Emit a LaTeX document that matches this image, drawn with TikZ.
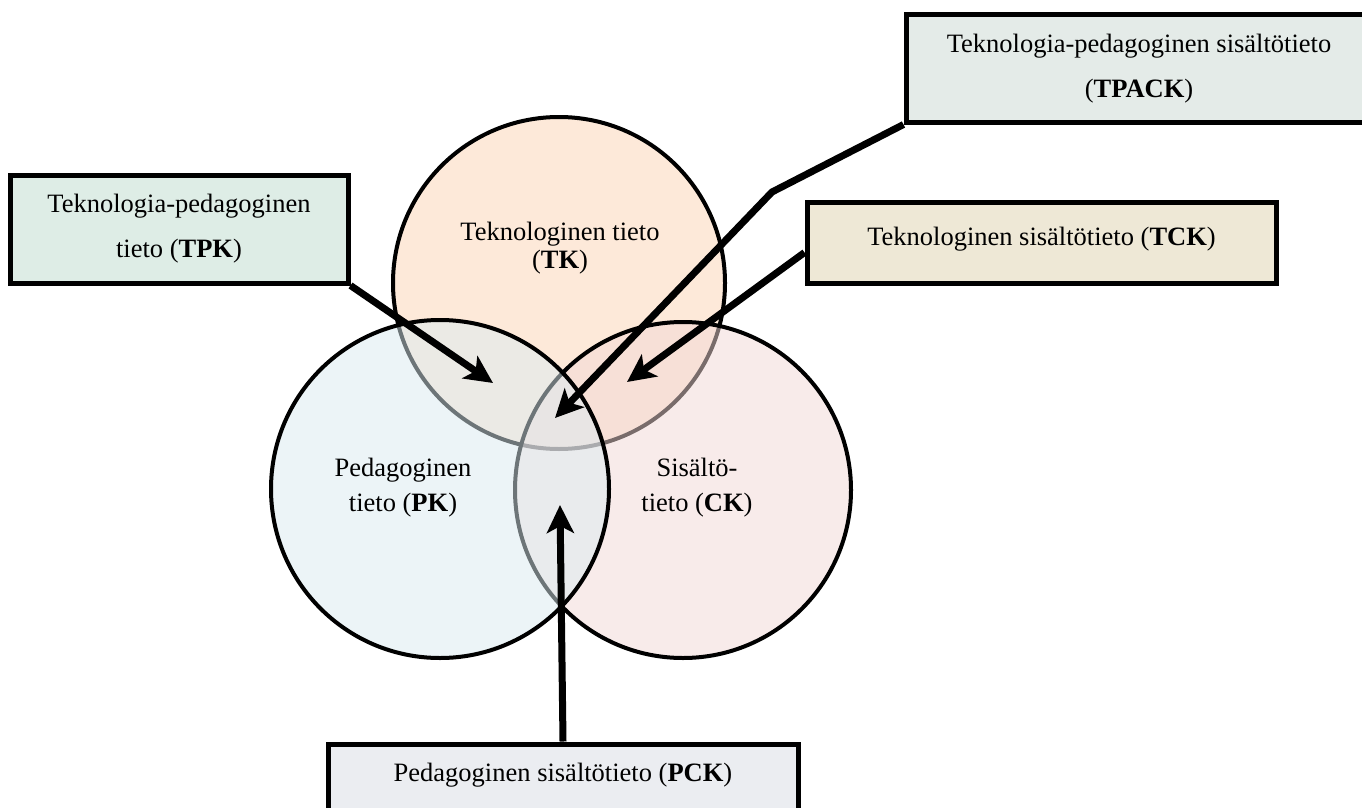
\documentclass[tikz,border=0pt]{standalone}
\usepackage{fontspec}
\setmainfont{Liberation Serif}
\usetikzlibrary{arrows.meta,shadows}

\definecolor{tkc}{RGB}{253,233,217}
\definecolor{pkc}{RGB}{219,235,241}
\definecolor{ckc}{RGB}{243,217,215}
\definecolor{tpkc}{RGB}{222,237,230}
\definecolor{tpackc}{RGB}{228,235,232}
\definecolor{tckc}{RGB}{238,232,214}
\definecolor{pckc}{RGB}{235,237,241}

\begin{document}
\begin{tikzpicture}[x=1pt,y=-1pt,
  lbl/.style={font=\fontsize{26.5pt}{45pt}\selectfont, align=center},
  cirlbl/.style={font=\fontsize{26.5pt}{28pt}\selectfont, align=center, inner sep=0pt},
  box/.style={draw=black, line width=5pt, inner sep=0pt, lbl,
    drop shadow={shadow xshift=2pt, shadow yshift=-2pt, opacity=0.3}},
  ring/.style={line width=4pt},
  arr/.style={line width=7pt, line join=miter, -{Stealth[length=28pt,width=27pt,inset=7pt]}},
]
\useasboundingbox (0,0) rectangle (1362,808);
\begin{scope}
\clip (0,0) rectangle (1362,808);
\fill[white] (0,0) rectangle (1362,808);

% circles
\draw[ring, fill=tkc] (559,283) circle[radius=166pt];
\draw[ring, fill=ckc, fill opacity=0.5] (683,490) circle[radius=168pt];
\draw[ring, fill=pkc, fill opacity=0.5] (440,489) circle[radius=169pt];

% circle labels
\node[cirlbl] (tk) at (560,248) {Teknologinen tieto\\(\textbf{TK})};
\node[cirlbl, font=\fontsize{26.5pt}{35pt}\selectfont] (pk) at (403,488) {Pedagoginen\\tieto (\textbf{PK})};
\node[cirlbl, font=\fontsize{26.5pt}{35pt}\selectfont] (ck) at (697,488) {Sisältö-\\tieto (\textbf{CK})};

% boxes
\node[box, fill=tpkc, minimum width=338pt, minimum height=108pt] (tpk) at (179,229)
  {Teknologia-pedagoginen\\tieto (\textbf{TPK})};
\node[box, fill=tpackc, minimum width=466pt, minimum height=107pt] (tpack) at (1139,68.5)
  {Teknologia-pedagoginen sisältötieto\\(\textbf{TPACK})};
\node[box, fill=tckc, minimum width=469pt, minimum height=81pt, text height=19pt, text depth=14pt] (tck) at (1041.5,242.5)
  {Teknologinen sisältötieto (\textbf{TCK})};
\node[box, fill=pckc, minimum width=470pt, minimum height=90pt, text height=19pt, text depth=35pt] (pck) at (563,789)
  {Pedagoginen sisältötieto (\textbf{PCK})};

% arrow targets
\coordinate (tpktip) at (493,383);
\coordinate (elbow) at (772,192);
\coordinate (tpacktip) at (555,418);
\coordinate (tcktip) at (627,382);
\coordinate (pcktip) at (560,505);

% arrows
\draw[arr] (tpk.south east) -- (tpktip);
\draw[arr] (tpack.south west) -- (elbow) -- (tpacktip);
\draw[arr] ([yshift=-10pt]tck.west) -- (tcktip);
\draw[arr] (pck.north) -- (pcktip);
\end{scope}
\end{tikzpicture}
\end{document}
